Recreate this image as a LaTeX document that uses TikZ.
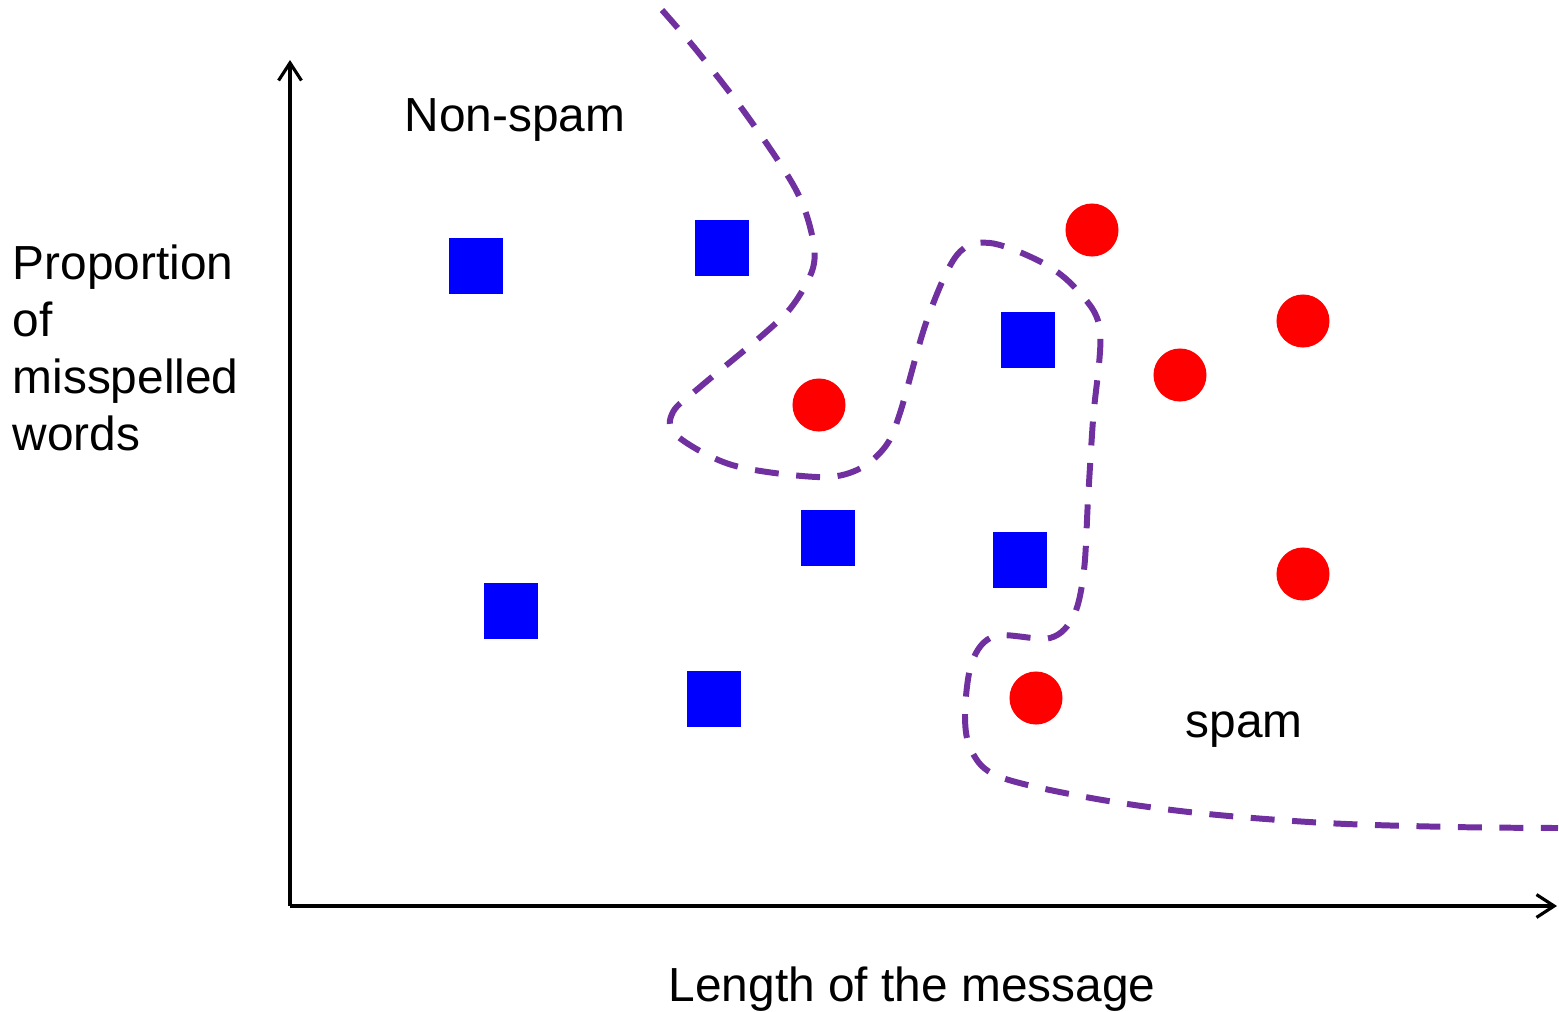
\documentclass[tikz,border=0pt]{standalone}
\usepackage{fontspec}
\setmainfont{Liberation Sans}
\usetikzlibrary{arrows.meta}

\definecolor{boundpurple}{RGB}{112,48,160}

\begin{document}
\begin{tikzpicture}[
    x=0.01cm, y=-0.01cm,
    every node/.style={font=\fontsize{13.6}{16.2}\selectfont},
    nonspam/.style={fill=blue, minimum width=0.53cm, minimum height=0.55cm, inner sep=0pt},
    spampt/.style={circle, fill=red, minimum size=0.53cm, inner sep=0pt},
    axis/.style={line width=0.9pt, -{Straight Barb[length=5pt, width=6.5pt, line width=0.9pt]}},
    boundary/.style={draw=boundpurple, line width=1.7pt, dash pattern=on 6.8pt off 5pt}
]
\useasboundingbox (0,0) rectangle (1559,1011);

% Axes
\coordinate (origin) at (290,906);
\coordinate (ytop) at (290,60);
\coordinate (xend) at (1557,906);
\draw[axis] (origin) -- (ytop);
\draw[axis] (origin) -- (xend);

% Axis labels
\node[align=left, anchor=west, inner sep=0pt] (ylabel) at (12,348) {Proportion\\of\\misspelled\\words};
\node (xlabel) at (912,989) {Length of the message};

% Class labels
\node (nslabel) at (515,120) {Non-spam};
\node (splabel) at (1244,730) {spam};

% Non-spam messages
\node[nonspam] (ns1) at (476,266) {};
\node[nonspam] (ns2) at (722,248) {};
\node[nonspam] (ns3) at (1028,340) {};
\node[nonspam] (ns4) at (828,538) {};
\node[nonspam] (ns5) at (1020,560) {};
\node[nonspam] (ns6) at (511,611) {};
\node[nonspam] (ns7) at (714,699) {};

% Spam messages
\node[spampt] (sp1) at (1092,230) {};
\node[spampt] (sp2) at (1303,321) {};
\node[spampt] (sp3) at (1180,375) {};
\node[spampt] (sp4) at (819,405) {};
\node[spampt] (sp5) at (1303,574) {};
\node[spampt] (sp6) at (1036,698) {};

% Decision boundary
\draw[boundary] plot[smooth, tension=0.55] coordinates {
    (662,10) (698,52) (748,117) (795,188) (812,235) (813,268)
    (793,305) (765,333) (700,387) (673,412) (676,435)
    (732,465) (817,477) (857,470) (885,447) (900,413)
    (927,320) (957,255) (990,243) (1043,263) (1077,290)
    (1100,330) (1093,420) (1088,500) (1084,570) (1074,615)
    (1050,638) (995,636) (972,662) (965,716) (972,752)
    (1000,777) (1091,798) (1198,813) (1326,823) (1453,827) (1558,828)};
\end{tikzpicture}
\end{document}
